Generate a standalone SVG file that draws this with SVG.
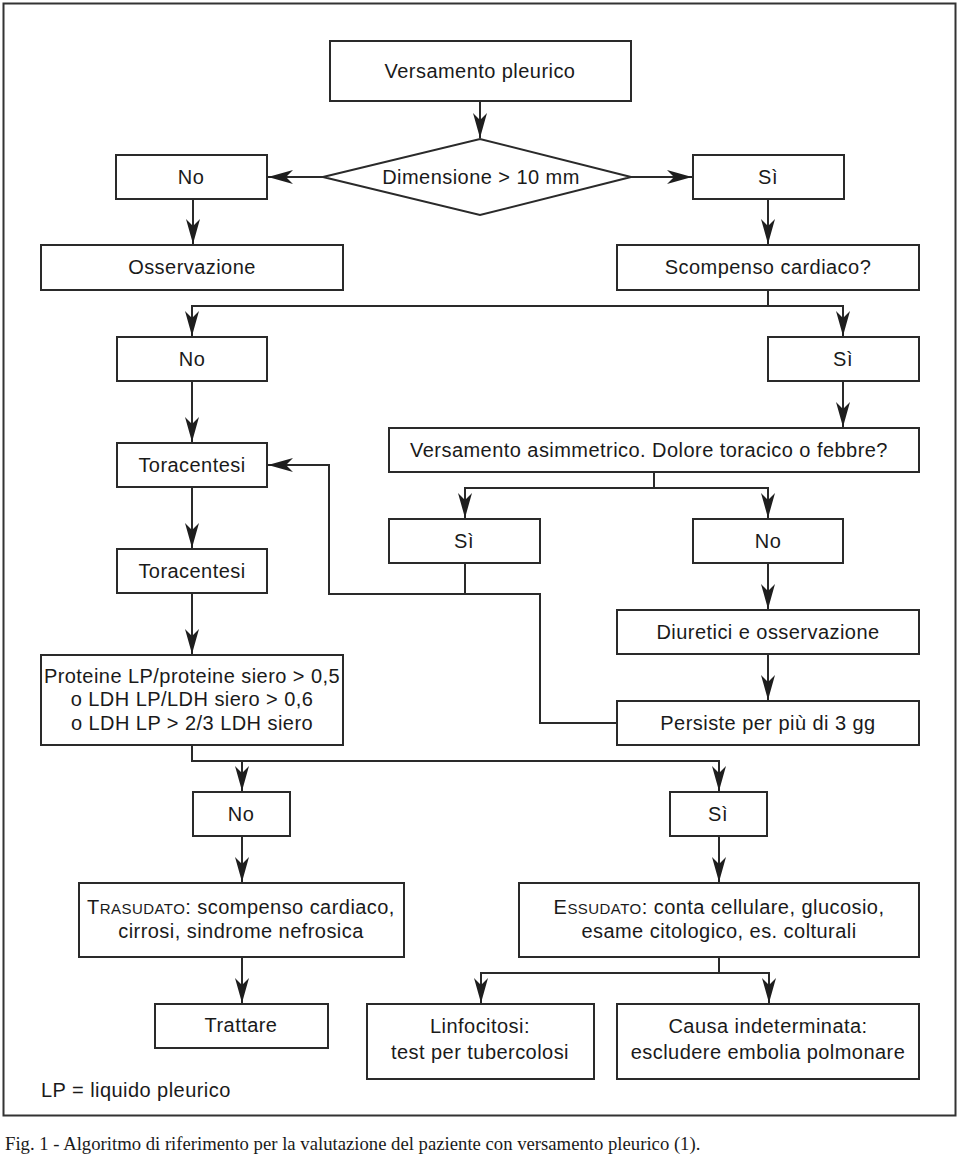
<svg xmlns="http://www.w3.org/2000/svg" width="960" height="1160" viewBox="0 0 960 1160">
<style>
.box{fill:#fff;stroke:#2a2a2a;stroke-width:2}
.t{font-family:"Liberation Sans",Arial,sans-serif;font-size:20px;fill:#1a1a1a;text-anchor:middle;letter-spacing:0.45px}
.c{fill:none;stroke:#2a2a2a;stroke-width:2}
.cap{font-family:"Liberation Serif","Times New Roman",serif;font-size:18.7px;fill:#1a1a1a}
</style>
<defs>
<marker id="ah" markerUnits="userSpaceOnUse" markerWidth="30" markerHeight="16" viewBox="-26 -8 28 16" refX="0" refY="0" orient="auto">
<path d="M0,0 L-25,-7 L-18,0 L-25,7 Z" fill="#1e1e1e"/>
</marker>
</defs>
<rect x="0" y="0" width="960" height="1160" fill="#fff"/>
<rect x="3.5" y="3.5" width="952" height="1112" fill="none" stroke="#333" stroke-width="2"/>

<g id="connectors">
<path class="c" d="M480,101 V138" marker-end="url(#ah)"/>
<path class="c" d="M323,177 H268" marker-end="url(#ah)"/>
<path class="c" d="M631,177 H692" marker-end="url(#ah)"/>
<path class="c" d="M193,199 V244" marker-end="url(#ah)"/>
<path class="c" d="M768,199 V244" marker-end="url(#ah)"/>
<path class="c" d="M768,290 V306 H192 V336" marker-end="url(#ah)"/>
<path class="c" d="M768,306 H843 V336" marker-end="url(#ah)"/>
<path class="c" d="M192,381 V442" marker-end="url(#ah)"/>
<path class="c" d="M843,381 V427" marker-end="url(#ah)"/>
<path class="c" d="M192,487 V548" marker-end="url(#ah)"/>
<path class="c" d="M654,472 V488 H465 V518" marker-end="url(#ah)"/>
<path class="c" d="M654,488 H768 V518" marker-end="url(#ah)"/>
<path class="c" d="M465,563 V594 H329 V465 H268" marker-end="url(#ah)"/>
<path class="c" d="M617,723 H540 V594 H465"/>
<path class="c" d="M768,563 V609" marker-end="url(#ah)"/>
<path class="c" d="M768,654 V700" marker-end="url(#ah)"/>
<path class="c" d="M192,593 V654" marker-end="url(#ah)"/>
<path class="c" d="M192,745 V761 H242 V791" marker-end="url(#ah)"/>
<path class="c" d="M242,761 H719 V791" marker-end="url(#ah)"/>
<path class="c" d="M242,836 V882" marker-end="url(#ah)"/>
<path class="c" d="M719,836 V882" marker-end="url(#ah)"/>
<path class="c" d="M242,957 V1003" marker-end="url(#ah)"/>
<path class="c" d="M719,957 V973 H481 V1003" marker-end="url(#ah)"/>
<path class="c" d="M719,973 H769 V1003" marker-end="url(#ah)"/>
</g>

<g id="n-versamento"><rect class="box" x="330" y="41" width="301" height="60"/><text class="t" x="480" y="78">Versamento pleurico</text></g>
<g id="n-dimensione"><polygon class="box" points="323,177 480,139 631,177 480,215"/><text class="t" x="481" y="184">Dimensione &gt; 10 mm</text></g>
<g id="n-no1"><rect class="box" x="116" y="155" width="151" height="44"/><text class="t" x="191" y="184">No</text></g>
<g id="n-si1"><rect class="box" x="693" y="155" width="151" height="44"/><text class="t" x="768" y="184">Sì</text></g>
<g id="n-osservazione"><rect class="box" x="41" y="245" width="302" height="45"/><text class="t" x="192" y="274">Osservazione</text></g>
<g id="n-scompenso"><rect class="box" x="617" y="245" width="302" height="45"/><text class="t" x="768" y="274">Scompenso cardiaco?</text></g>
<g id="n-no2"><rect class="box" x="117" y="337" width="150" height="44"/><text class="t" x="192" y="366">No</text></g>
<g id="n-si2"><rect class="box" x="768" y="337" width="151" height="44"/><text class="t" x="843" y="366">Sì</text></g>
<g id="n-toracentesi1"><rect class="box" x="117" y="443" width="150" height="44"/><text class="t" x="192" y="472">Toracentesi</text></g>
<g id="n-asimmetrico"><rect class="box" x="389" y="428" width="530" height="44"/><text class="t" x="649" y="457">Versamento asimmetrico. Dolore toracico o febbre?</text></g>
<g id="n-toracentesi2"><rect class="box" x="117" y="549" width="150" height="44"/><text class="t" x="192" y="578">Toracentesi</text></g>
<g id="n-si3"><rect class="box" x="389" y="519" width="151" height="44"/><text class="t" x="464" y="548">Sì</text></g>
<g id="n-no3"><rect class="box" x="693" y="519" width="150" height="44"/><text class="t" x="768" y="548">No</text></g>
<g id="n-diuretici"><rect class="box" x="617" y="610" width="302" height="44"/><text class="t" x="768" y="639">Diuretici e osservazione</text></g>
<g id="n-proteine"><rect class="box" x="41" y="655" width="302" height="90"/>
<text class="t" x="192" y="683">Proteine LP/proteine siero &gt; 0,5</text>
<text class="t" x="192" y="706">o LDH LP/LDH siero &gt; 0,6</text>
<text class="t" x="192" y="730">o LDH LP &gt; 2/3 LDH siero</text></g>
<g id="n-persiste"><rect class="box" x="617" y="701" width="302" height="44"/><text class="t" x="768" y="730">Persiste per più di 3 gg</text></g>
<g id="n-no4"><rect class="box" x="193" y="792" width="97" height="44"/><text class="t" x="241" y="821">No</text></g>
<g id="n-si4"><rect class="box" x="670" y="792" width="97" height="44"/><text class="t" x="718" y="821">Sì</text></g>
<g id="n-trasudato"><rect class="box" x="79" y="883" width="325" height="74"/>
<text class="t" x="241" y="914">T<tspan font-size="15">RASUDATO</tspan>: scompenso cardiaco,</text>
<text class="t" x="241" y="938">cirrosi, sindrome nefrosica</text></g>
<g id="n-essudato"><rect class="box" x="519" y="883" width="400" height="74"/>
<text class="t" x="719" y="914">E<tspan font-size="15">SSUDATO</tspan>: conta cellulare, glucosio,</text>
<text class="t" x="719" y="938">esame citologico, es. colturali</text></g>
<g id="n-trattare"><rect class="box" x="155" y="1004" width="173" height="44"/><text class="t" x="241" y="1032">Trattare</text></g>
<g id="n-linfocitosi"><rect class="box" x="367" y="1004" width="227" height="75"/>
<text class="t" x="480" y="1033">Linfocitosi:</text>
<text class="t" x="480" y="1059">test per tubercolosi</text></g>
<g id="n-causa"><rect class="box" x="617" y="1004" width="302" height="75"/>
<text class="t" x="768" y="1033">Causa indeterminata:</text>
<text class="t" x="768" y="1059">escludere embolia polmonare</text></g>
<text class="t" x="41" y="1097" style="text-anchor:start">LP = liquido pleurico</text>
<text class="cap" x="5" y="1150">Fig. 1 - Algoritmo di riferimento per la valutazione del paziente con versamento pleurico (1).</text>
</svg>
